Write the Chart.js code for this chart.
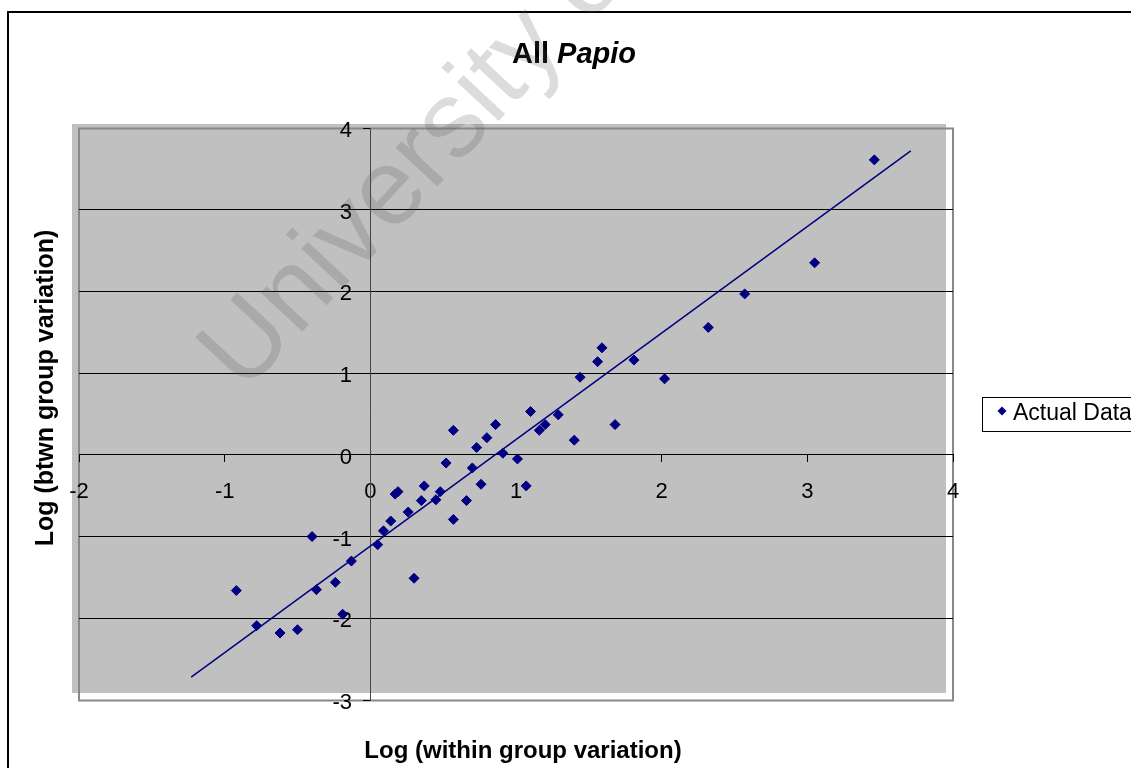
<!DOCTYPE html>
<html>
<head>
<meta charset="utf-8">
<script src="https://cdn.jsdelivr.net/npm/chart.js@4"></script>
<style>
  html, body { margin: 0; padding: 0; background: #fff; }
  canvas { display: block; }
</style>
</head>
<body>
<canvas id="c" width="1131" height="768"></canvas>
<script>
// ---- data ----
const withinLog = [-0.92,-0.78,-0.62,-0.50,-0.40,-0.37,-0.24,-0.19,-0.13,0.05,0.09,0.14,0.17,0.19,0.26,0.30,0.35,0.37,0.45,0.48,0.52,0.57,0.57,0.66,0.70,0.73,0.76,0.80,0.86,0.91,1.01,1.07,1.10,1.16,1.20,1.29,1.40,1.44,1.56,1.59,1.68,1.81,2.02,2.32,2.57,3.05,3.46];
const btwnLog   = [-1.66,-2.09,-2.18,-2.14,-1.00,-1.65,-1.56,-1.95,-1.30,-1.10,-0.93,-0.81,-0.48,-0.45,-0.70,-1.51,-0.56,-0.38,-0.55,-0.45,-0.10,0.30,-0.79,-0.56,-0.16,0.09,-0.36,0.21,0.37,0.02,-0.05,-0.38,0.53,0.30,0.37,0.49,0.18,0.95,1.14,1.31,0.37,1.16,0.93,1.56,1.97,2.35,3.61];
const trendX = [-1.23, 3.71];
const trendY = [-2.72, 3.72];
const xTicks = [-2,-1,0,1,2,3,4];
const yTicks = [-3,-2,-1,0,1,2,3,4];
const seriesName = 'Actual Data';
const titleMain = 'All ';
const titleItalic = 'Papio';
const xTitle = 'Log (within group variation)';
const yTitle = 'Log (btwn group variation)';
const watermark = 'University of';

const FONT = "'Liberation Sans', Arial, sans-serif";
const NAVY = '#000080';

const decorPlugin = {
  id: 'decor',
  beforeDraw(chart) {
    const ctx = chart.ctx, a = chart.chartArea;
    ctx.save();
    ctx.fillStyle = '#fff';
    ctx.fillRect(0, 0, chart.width, chart.height);
    // outer frame
    ctx.strokeStyle = '#000';
    ctx.lineWidth = 2;
    ctx.strokeRect(8, 12, 1300, 900);
    // plot area fill (offset up-left like the reference)
    ctx.fillStyle = '#c0c0c0';
    ctx.fillRect(a.left - 7, a.top - 4, a.right - a.left, a.bottom - a.top - 3);
    // plot area frame
    ctx.strokeStyle = '#888';
    ctx.lineWidth = 2;
    ctx.strokeRect(a.left, a.top + 0.5, a.right - a.left, a.bottom - a.top);
    ctx.restore();
  },
  afterDraw(chart) {
    const ctx = chart.ctx;
    ctx.save();
    ctx.fillStyle = '#000';
    // title
    ctx.textBaseline = 'alphabetic';
    ctx.font = 'bold 29px ' + FONT;
    const w1 = ctx.measureText(titleMain).width;
    ctx.font = 'italic bold 29px ' + FONT;
    const w2 = ctx.measureText(titleItalic).width;
    let tx = 574 - (w1 + w2) / 2;
    ctx.font = 'bold 29px ' + FONT;
    ctx.textAlign = 'left';
    ctx.fillText(titleMain, tx, 63);
    ctx.font = 'italic bold 29px ' + FONT;
    ctx.fillText(titleItalic, tx + w1, 63);
    // x axis title
    ctx.font = 'bold 24px ' + FONT;
    ctx.textAlign = 'center';
    ctx.fillText(xTitle, 523, 758);
    // y axis title
    ctx.save();
    ctx.translate(53, 388);
    ctx.rotate(-Math.PI / 2);
    ctx.font = 'bold 25px ' + FONT;
    ctx.fillText(yTitle, 0, 0);
    ctx.restore();
    // legend
    ctx.strokeStyle = '#000';
    ctx.lineWidth = 1;
    ctx.strokeRect(982.5, 397.5, 300, 34);
    ctx.fillStyle = NAVY;
    ctx.beginPath();
    const lx = 1002, ly = 411, r = 4.5;
    ctx.moveTo(lx, ly - r); ctx.lineTo(lx + r, ly); ctx.lineTo(lx, ly + r); ctx.lineTo(lx - r, ly); ctx.closePath();
    ctx.fill();
    ctx.fillStyle = '#000';
    ctx.font = '23px ' + FONT;
    ctx.textAlign = 'left';
    ctx.textBaseline = 'middle';
    ctx.fillText(seriesName, 1013, 414);
    // watermark
    ctx.save();
    ctx.translate(244, 394);
    ctx.rotate(-47 * Math.PI / 180);
    ctx.font = '108px ' + FONT;
    ctx.textBaseline = 'alphabetic';
    ctx.fillStyle = 'rgba(80,80,80,0.2)';
    ctx.fillText(watermark, 0, 0);
    ctx.restore();
    ctx.restore();
  }
};

new Chart(document.getElementById('c'), {
  type: 'scatter',
  data: {
    datasets: [
      {
        label: seriesName,
        data: withinLog.map((x, i) => ({ x: x, y: btwnLog[i] })),
        pointStyle: 'rectRot',
        pointRadius: 5,
        backgroundColor: NAVY,
        borderColor: NAVY,
        borderWidth: 1
      },
      {
        label: 'Trend',
        data: trendX.map((x, i) => ({ x: x, y: trendY[i] })),
        showLine: true,
        pointRadius: 0,
        borderColor: NAVY,
        borderWidth: 1.5,
        fill: false
      }
    ]
  },
  options: {
    responsive: false,
    animation: false,
    devicePixelRatio: 1,
    layout: { padding: { left: 79, top: 128, right: 178, bottom: 68 } },
    plugins: { legend: { display: false }, title: { display: false }, tooltip: { enabled: false } },
    scales: {
      x: {
        type: 'linear',
        min: xTicks[0], max: xTicks[xTicks.length - 1],
        position: { y: 0 },
        afterBuildTicks: s => { s.ticks = xTicks.map(v => ({ value: v })); },
        ticks: { color: '#000', font: { family: FONT, size: 22 }, padding: 17, maxRotation: 0, autoSkip: false },
        grid: { drawOnChartArea: false, tickLength: 7, tickColor: '#000', color: '#000' },
        border: { color: '#000', width: 1 }
      },
      y: {
        type: 'linear',
        min: yTicks[0], max: yTicks[yTicks.length - 1],
        position: { x: 0 },
        afterBuildTicks: s => { s.ticks = yTicks.map(v => ({ value: v })); },
        ticks: {
          color: '#000', font: { family: FONT, size: 22 }, padding: 13, autoSkip: false, labelOffset: 3,
          // right-aligned at the axis line; trailing spaces keep a gap like the reference
          callback: v => String(v) + '   '
        },
        grid: {
          color: c => (c.tick && (c.tick.value === 4 || c.tick.value === -3)) ? 'rgba(0,0,0,0)' : '#000',
          tickColor: '#000', tickLength: 7
        },
        border: { color: '#444', width: 1 }
      }
    }
  },
  plugins: [decorPlugin]
});
</script>
</body>
</html>
